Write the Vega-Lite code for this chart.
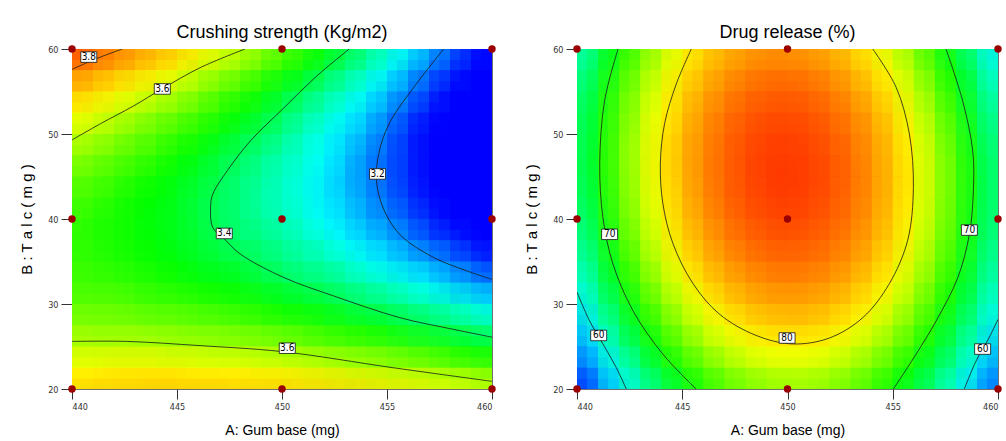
{
"$schema": "https://vega.github.io/schema/vega-lite/v6.json",
"background": "white",
"padding": {"left": 19, "top": 23, "right": 0, "bottom": 0},
"spacing": 27,
"resolve": {"scale": {"color": "independent", "x": "independent", "y": "independent"}},
"datasets": {
"pts": [{"a":440,"b":20},{"a":450,"b":20},{"a":460,"b":20},{"a":440,"b":40},{"a":450,"b":40},{"a":460,"b":40},{"a":440,"b":60},{"a":450,"b":60},{"a":460,"b":60}],
"csLab": [{"a":440.8,"b":59.05,"t":"3.8"},{"a":444.3,"b":55.3,"t":"3.6"},{"a":447.25,"b":38.3,"t":"3.4"},{"a":454.55,"b":45.3,"t":"3.2"},{"a":450.25,"b":24.8,"t":"3.6"}],
"drLab": [{"a":441.55,"b":38.2,"t":"70"},{"a":458.64,"b":38.7,"t":"70"},{"a":449.98,"b":26.0,"t":"80"},{"a":441.03,"b":26.3,"t":"60"},{"a":459.27,"b":24.7,"t":"60"}],
"csLines": [
{"k":"38","i":1,"a":440,"b":57.6},{"k":"38","i":2,"a":441.2,"b":58.9},{"k":"38","i":3,"a":442.4,"b":60},
{"k":"36u","i":1,"a":440,"b":49.3},{"k":"36u","i":2,"a":441.35,"b":51.2},{"k":"36u","i":3,"a":442.93,"b":53.3},{"k":"36u","i":4,"a":444.28,"b":55.3},{"k":"36u","i":5,"a":446.1,"b":57.8},{"k":"36u","i":6,"a":448.24,"b":60},
{"k":"34","i":1,"a":453.2,"b":60},{"k":"34","i":2,"a":451.6,"b":56.7},{"k":"34","i":3,"a":450.1,"b":53.1},{"k":"34","i":4,"a":448.5,"b":49.2},{"k":"34","i":5,"a":447.4,"b":45.7},{"k":"34","i":6,"a":446.7,"b":42.9},{"k":"34","i":7,"a":446.6,"b":41.4},{"k":"34","i":8,"a":446.7,"b":39.0},{"k":"34","i":9,"a":447.2,"b":37.8},{"k":"34","i":10,"a":448.0,"b":35.9},{"k":"34","i":11,"a":450.1,"b":33.1},{"k":"34","i":12,"a":452.4,"b":31.0},{"k":"34","i":13,"a":455.6,"b":28.4},{"k":"34","i":14,"a":458.0,"b":27.1},{"k":"34","i":15,"a":460,"b":26.1},
{"k":"32","i":1,"a":457.7,"b":60},{"k":"32","i":2,"a":456.4,"b":55.9},{"k":"32","i":3,"a":455.1,"b":51.2},{"k":"32","i":4,"a":454.6,"b":47.6},{"k":"32","i":5,"a":454.5,"b":44.5},{"k":"32","i":6,"a":454.8,"b":41.4},{"k":"32","i":7,"a":455.6,"b":38.2},{"k":"32","i":8,"a":457.2,"b":35.5},{"k":"32","i":9,"a":458.8,"b":33.9},{"k":"32","i":10,"a":460,"b":32.9},
{"k":"36l","i":1,"a":440,"b":25.6},{"k":"36l","i":2,"a":442.6,"b":25.6},{"k":"36l","i":3,"a":446.1,"b":25.1},{"k":"36l","i":4,"a":450,"b":24.4},{"k":"36l","i":5,"a":455.3,"b":22.5},{"k":"36l","i":6,"a":460,"b":20.9}
],
"drLines": [
{"k":"80","i":1,"a":445.43,"b":60},{"k":"80","i":2,"a":444.72,"b":55.9},{"k":"80","i":3,"a":444.16,"b":51.2},{"k":"80","i":4,"a":443.96,"b":46.5},{"k":"80","i":5,"a":444.08,"b":41.8},{"k":"80","i":6,"a":444.56,"b":37.1},{"k":"80","i":7,"a":445.51,"b":32.4},{"k":"80","i":8,"a":446.77,"b":28.8},{"k":"80","i":9,"a":448.51,"b":26.3},{"k":"80","i":10,"a":450.25,"b":25.3},{"k":"80","i":11,"a":451.99,"b":26.0},{"k":"80","i":12,"a":453.58,"b":28.4},{"k":"80","i":13,"a":454.84,"b":32.4},{"k":"80","i":14,"a":455.71,"b":37.5},{"k":"80","i":15,"a":455.98,"b":43.7},{"k":"80","i":16,"a":455.79,"b":50.0},{"k":"80","i":17,"a":455.16,"b":55.5},{"k":"80","i":18,"a":454.05,"b":60},
{"k":"70l","i":1,"a":441.95,"b":60},{"k":"70l","i":2,"a":441.31,"b":53.9},{"k":"70l","i":3,"a":441.08,"b":46.5},{"k":"70l","i":4,"a":441.23,"b":40.2},{"k":"70l","i":5,"a":441.71,"b":34.7},{"k":"70l","i":6,"a":442.66,"b":29.2},{"k":"70l","i":7,"a":444.08,"b":24.1},{"k":"70l","i":8,"a":445.66,"b":20},
{"k":"70r","i":1,"a":457.53,"b":60},{"k":"70r","i":2,"a":458.32,"b":53.9},{"k":"70r","i":3,"a":458.8,"b":48.0},{"k":"70r","i":4,"a":458.83,"b":43.3},{"k":"70r","i":5,"a":458.64,"b":38.2},{"k":"70r","i":6,"a":458.09,"b":33.1},{"k":"70r","i":7,"a":457.06,"b":28.0},{"k":"70r","i":8,"a":456.11,"b":24.1},{"k":"70r","i":9,"a":455.03,"b":20},
{"k":"60l","i":1,"a":440,"b":31.4},{"k":"60l","i":2,"a":440.6,"b":28.0},{"k":"60l","i":3,"a":441.23,"b":25.3},{"k":"60l","i":4,"a":441.87,"b":22.5},{"k":"60l","i":5,"a":442.34,"b":20},
{"k":"60r","i":1,"a":460,"b":28.2},{"k":"60r","i":2,"a":459.59,"b":26.1},{"k":"60r","i":3,"a":458.96,"b":23.3},{"k":"60r","i":4,"a":458.4,"b":20}
],
"cs": [
{"a":440,"b":20,"v":3.72},{"a":441,"b":20,"v":3.73},{"a":442,"b":20,"v":3.73},{"a":443,"b":20,"v":3.73},{"a":444,"b":20,"v":3.74},{"a":445,"b":20,"v":3.74},{"a":446,"b":20,"v":3.74},{"a":447,"b":20,"v":3.74},{"a":448,"b":20,"v":3.73},{"a":449,"b":20,"v":3.73},{"a":450,"b":20,"v":3.73},{"a":451,"b":20,"v":3.72},{"a":452,"b":20,"v":3.72},{"a":453,"b":20,"v":3.71},{"a":454,"b":20,"v":3.70},{"a":455,"b":20,"v":3.69},{"a":456,"b":20,"v":3.68},{"a":457,"b":20,"v":3.67},{"a":458,"b":20,"v":3.66},{"a":459,"b":20,"v":3.65},{"a":460,"b":20,"v":3.64},
{"a":440,"b":22.5,"v":3.66},{"a":441,"b":22.5,"v":3.66},{"a":442,"b":22.5,"v":3.67},{"a":443,"b":22.5,"v":3.67},{"a":444,"b":22.5,"v":3.67},{"a":445,"b":22.5,"v":3.67},{"a":446,"b":22.5,"v":3.66},{"a":447,"b":22.5,"v":3.66},{"a":448,"b":22.5,"v":3.66},{"a":449,"b":22.5,"v":3.65},{"a":450,"b":22.5,"v":3.65},{"a":451,"b":22.5,"v":3.64},{"a":452,"b":22.5,"v":3.63},{"a":453,"b":22.5,"v":3.62},{"a":454,"b":22.5,"v":3.61},{"a":455,"b":22.5,"v":3.60},{"a":456,"b":22.5,"v":3.59},{"a":457,"b":22.5,"v":3.58},{"a":458,"b":22.5,"v":3.56},{"a":459,"b":22.5,"v":3.55},{"a":460,"b":22.5,"v":3.53},
{"a":440,"b":25,"v":3.61},{"a":441,"b":25,"v":3.61},{"a":442,"b":25,"v":3.61},{"a":443,"b":25,"v":3.61},{"a":444,"b":25,"v":3.61},{"a":445,"b":25,"v":3.60},{"a":446,"b":25,"v":3.60},{"a":447,"b":25,"v":3.59},{"a":448,"b":25,"v":3.59},{"a":449,"b":25,"v":3.58},{"a":450,"b":25,"v":3.57},{"a":451,"b":25,"v":3.56},{"a":452,"b":25,"v":3.55},{"a":453,"b":25,"v":3.54},{"a":454,"b":25,"v":3.53},{"a":455,"b":25,"v":3.52},{"a":456,"b":25,"v":3.50},{"a":457,"b":25,"v":3.49},{"a":458,"b":25,"v":3.47},{"a":459,"b":25,"v":3.45},{"a":460,"b":25,"v":3.44},
{"a":440,"b":27.5,"v":3.57},{"a":441,"b":27.5,"v":3.56},{"a":442,"b":27.5,"v":3.56},{"a":443,"b":27.5,"v":3.56},{"a":444,"b":27.5,"v":3.55},{"a":445,"b":27.5,"v":3.55},{"a":446,"b":27.5,"v":3.54},{"a":447,"b":27.5,"v":3.54},{"a":448,"b":27.5,"v":3.53},{"a":449,"b":27.5,"v":3.52},{"a":450,"b":27.5,"v":3.51},{"a":451,"b":27.5,"v":3.50},{"a":452,"b":27.5,"v":3.48},{"a":453,"b":27.5,"v":3.47},{"a":454,"b":27.5,"v":3.46},{"a":455,"b":27.5,"v":3.44},{"a":456,"b":27.5,"v":3.42},{"a":457,"b":27.5,"v":3.41},{"a":458,"b":27.5,"v":3.39},{"a":459,"b":27.5,"v":3.37},{"a":460,"b":27.5,"v":3.35},
{"a":440,"b":30,"v":3.53},{"a":441,"b":30,"v":3.53},{"a":442,"b":30,"v":3.53},{"a":443,"b":30,"v":3.52},{"a":444,"b":30,"v":3.51},{"a":445,"b":30,"v":3.51},{"a":446,"b":30,"v":3.50},{"a":447,"b":30,"v":3.49},{"a":448,"b":30,"v":3.48},{"a":449,"b":30,"v":3.47},{"a":450,"b":30,"v":3.45},{"a":451,"b":30,"v":3.44},{"a":452,"b":30,"v":3.43},{"a":453,"b":30,"v":3.41},{"a":454,"b":30,"v":3.39},{"a":455,"b":30,"v":3.38},{"a":456,"b":30,"v":3.36},{"a":457,"b":30,"v":3.34},{"a":458,"b":30,"v":3.32},{"a":459,"b":30,"v":3.30},{"a":460,"b":30,"v":3.27},
{"a":440,"b":32.5,"v":3.51},{"a":441,"b":32.5,"v":3.50},{"a":442,"b":32.5,"v":3.50},{"a":443,"b":32.5,"v":3.49},{"a":444,"b":32.5,"v":3.48},{"a":445,"b":32.5,"v":3.47},{"a":446,"b":32.5,"v":3.46},{"a":447,"b":32.5,"v":3.45},{"a":448,"b":32.5,"v":3.44},{"a":449,"b":32.5,"v":3.42},{"a":450,"b":32.5,"v":3.41},{"a":451,"b":32.5,"v":3.39},{"a":452,"b":32.5,"v":3.38},{"a":453,"b":32.5,"v":3.36},{"a":454,"b":32.5,"v":3.34},{"a":455,"b":32.5,"v":3.32},{"a":456,"b":32.5,"v":3.30},{"a":457,"b":32.5,"v":3.28},{"a":458,"b":32.5,"v":3.25},{"a":459,"b":32.5,"v":3.23},{"a":460,"b":32.5,"v":3.21},
{"a":440,"b":35,"v":3.50},{"a":441,"b":35,"v":3.49},{"a":442,"b":35,"v":3.48},{"a":443,"b":35,"v":3.47},{"a":444,"b":35,"v":3.46},{"a":445,"b":35,"v":3.45},{"a":446,"b":35,"v":3.43},{"a":447,"b":35,"v":3.42},{"a":448,"b":35,"v":3.41},{"a":449,"b":35,"v":3.39},{"a":450,"b":35,"v":3.37},{"a":451,"b":35,"v":3.35},{"a":452,"b":35,"v":3.34},{"a":453,"b":35,"v":3.32},{"a":454,"b":35,"v":3.29},{"a":455,"b":35,"v":3.27},{"a":456,"b":35,"v":3.25},{"a":457,"b":35,"v":3.23},{"a":458,"b":35,"v":3.20},{"a":459,"b":35,"v":3.18},{"a":460,"b":35,"v":3.15},
{"a":440,"b":37.5,"v":3.49},{"a":441,"b":37.5,"v":3.48},{"a":442,"b":37.5,"v":3.47},{"a":443,"b":37.5,"v":3.46},{"a":444,"b":37.5,"v":3.45},{"a":445,"b":37.5,"v":3.43},{"a":446,"b":37.5,"v":3.42},{"a":447,"b":37.5,"v":3.40},{"a":448,"b":37.5,"v":3.38},{"a":449,"b":37.5,"v":3.37},{"a":450,"b":37.5,"v":3.35},{"a":451,"b":37.5,"v":3.33},{"a":452,"b":37.5,"v":3.31},{"a":453,"b":37.5,"v":3.28},{"a":454,"b":37.5,"v":3.26},{"a":455,"b":37.5,"v":3.24},{"a":456,"b":37.5,"v":3.21},{"a":457,"b":37.5,"v":3.18},{"a":458,"b":37.5,"v":3.16},{"a":459,"b":37.5,"v":3.13},{"a":460,"b":37.5,"v":3.10},
{"a":440,"b":40,"v":3.50},{"a":441,"b":40,"v":3.48},{"a":442,"b":40,"v":3.47},{"a":443,"b":40,"v":3.46},{"a":444,"b":40,"v":3.44},{"a":445,"b":40,"v":3.43},{"a":446,"b":40,"v":3.41},{"a":447,"b":40,"v":3.39},{"a":448,"b":40,"v":3.37},{"a":449,"b":40,"v":3.35},{"a":450,"b":40,"v":3.33},{"a":451,"b":40,"v":3.31},{"a":452,"b":40,"v":3.28},{"a":453,"b":40,"v":3.26},{"a":454,"b":40,"v":3.23},{"a":455,"b":40,"v":3.21},{"a":456,"b":40,"v":3.18},{"a":457,"b":40,"v":3.15},{"a":458,"b":40,"v":3.12},{"a":459,"b":40,"v":3.09},{"a":460,"b":40,"v":3.06},
{"a":440,"b":42.5,"v":3.51},{"a":441,"b":42.5,"v":3.50},{"a":442,"b":42.5,"v":3.48},{"a":443,"b":42.5,"v":3.46},{"a":444,"b":42.5,"v":3.45},{"a":445,"b":42.5,"v":3.43},{"a":446,"b":42.5,"v":3.41},{"a":447,"b":42.5,"v":3.39},{"a":448,"b":42.5,"v":3.37},{"a":449,"b":42.5,"v":3.34},{"a":450,"b":42.5,"v":3.32},{"a":451,"b":42.5,"v":3.30},{"a":452,"b":42.5,"v":3.27},{"a":453,"b":42.5,"v":3.25},{"a":454,"b":42.5,"v":3.22},{"a":455,"b":42.5,"v":3.19},{"a":456,"b":42.5,"v":3.16},{"a":457,"b":42.5,"v":3.13},{"a":458,"b":42.5,"v":3.10},{"a":459,"b":42.5,"v":3.07},{"a":460,"b":42.5,"v":3.03},
{"a":440,"b":45,"v":3.53},{"a":441,"b":45,"v":3.52},{"a":442,"b":45,"v":3.50},{"a":443,"b":45,"v":3.48},{"a":444,"b":45,"v":3.46},{"a":445,"b":45,"v":3.44},{"a":446,"b":45,"v":3.42},{"a":447,"b":45,"v":3.40},{"a":448,"b":45,"v":3.37},{"a":449,"b":45,"v":3.35},{"a":450,"b":45,"v":3.32},{"a":451,"b":45,"v":3.30},{"a":452,"b":45,"v":3.27},{"a":453,"b":45,"v":3.24},{"a":454,"b":45,"v":3.21},{"a":455,"b":45,"v":3.18},{"a":456,"b":45,"v":3.15},{"a":457,"b":45,"v":3.12},{"a":458,"b":45,"v":3.08},{"a":459,"b":45,"v":3.05},{"a":460,"b":45,"v":3.01},
{"a":440,"b":47.5,"v":3.57},{"a":441,"b":47.5,"v":3.55},{"a":442,"b":47.5,"v":3.53},{"a":443,"b":47.5,"v":3.51},{"a":444,"b":47.5,"v":3.49},{"a":445,"b":47.5,"v":3.46},{"a":446,"b":47.5,"v":3.44},{"a":447,"b":47.5,"v":3.41},{"a":448,"b":47.5,"v":3.39},{"a":449,"b":47.5,"v":3.36},{"a":450,"b":47.5,"v":3.33},{"a":451,"b":47.5,"v":3.31},{"a":452,"b":47.5,"v":3.28},{"a":453,"b":47.5,"v":3.25},{"a":454,"b":47.5,"v":3.21},{"a":455,"b":47.5,"v":3.18},{"a":456,"b":47.5,"v":3.15},{"a":457,"b":47.5,"v":3.11},{"a":458,"b":47.5,"v":3.08},{"a":459,"b":47.5,"v":3.04},{"a":460,"b":47.5,"v":3.00},
{"a":440,"b":50,"v":3.61},{"a":441,"b":50,"v":3.59},{"a":442,"b":50,"v":3.57},{"a":443,"b":50,"v":3.54},{"a":444,"b":50,"v":3.52},{"a":445,"b":50,"v":3.49},{"a":446,"b":50,"v":3.47},{"a":447,"b":50,"v":3.44},{"a":448,"b":50,"v":3.41},{"a":449,"b":50,"v":3.39},{"a":450,"b":50,"v":3.36},{"a":451,"b":50,"v":3.32},{"a":452,"b":50,"v":3.29},{"a":453,"b":50,"v":3.26},{"a":454,"b":50,"v":3.23},{"a":455,"b":50,"v":3.19},{"a":456,"b":50,"v":3.15},{"a":457,"b":50,"v":3.12},{"a":458,"b":50,"v":3.08},{"a":459,"b":50,"v":3.04},{"a":460,"b":50,"v":3.00},
{"a":440,"b":52.5,"v":3.66},{"a":441,"b":52.5,"v":3.64},{"a":442,"b":52.5,"v":3.61},{"a":443,"b":52.5,"v":3.59},{"a":444,"b":52.5,"v":3.56},{"a":445,"b":52.5,"v":3.54},{"a":446,"b":52.5,"v":3.51},{"a":447,"b":52.5,"v":3.48},{"a":448,"b":52.5,"v":3.45},{"a":449,"b":52.5,"v":3.42},{"a":450,"b":52.5,"v":3.39},{"a":451,"b":52.5,"v":3.35},{"a":452,"b":52.5,"v":3.32},{"a":453,"b":52.5,"v":3.28},{"a":454,"b":52.5,"v":3.25},{"a":455,"b":52.5,"v":3.21},{"a":456,"b":52.5,"v":3.17},{"a":457,"b":52.5,"v":3.13},{"a":458,"b":52.5,"v":3.09},{"a":459,"b":52.5,"v":3.05},{"a":460,"b":52.5,"v":3.01},
{"a":440,"b":55,"v":3.72},{"a":441,"b":55,"v":3.70},{"a":442,"b":55,"v":3.67},{"a":443,"b":55,"v":3.64},{"a":444,"b":55,"v":3.62},{"a":445,"b":55,"v":3.59},{"a":446,"b":55,"v":3.56},{"a":447,"b":55,"v":3.52},{"a":448,"b":55,"v":3.49},{"a":449,"b":55,"v":3.46},{"a":450,"b":55,"v":3.42},{"a":451,"b":55,"v":3.39},{"a":452,"b":55,"v":3.35},{"a":453,"b":55,"v":3.32},{"a":454,"b":55,"v":3.28},{"a":455,"b":55,"v":3.24},{"a":456,"b":55,"v":3.20},{"a":457,"b":55,"v":3.16},{"a":458,"b":55,"v":3.11},{"a":459,"b":55,"v":3.07},{"a":460,"b":55,"v":3.03},
{"a":440,"b":57.5,"v":3.79},{"a":441,"b":57.5,"v":3.77},{"a":442,"b":57.5,"v":3.74},{"a":443,"b":57.5,"v":3.71},{"a":444,"b":57.5,"v":3.68},{"a":445,"b":57.5,"v":3.65},{"a":446,"b":57.5,"v":3.61},{"a":447,"b":57.5,"v":3.58},{"a":448,"b":57.5,"v":3.55},{"a":449,"b":57.5,"v":3.51},{"a":450,"b":57.5,"v":3.47},{"a":451,"b":57.5,"v":3.44},{"a":452,"b":57.5,"v":3.40},{"a":453,"b":57.5,"v":3.36},{"a":454,"b":57.5,"v":3.32},{"a":455,"b":57.5,"v":3.28},{"a":456,"b":57.5,"v":3.23},{"a":457,"b":57.5,"v":3.19},{"a":458,"b":57.5,"v":3.15},{"a":459,"b":57.5,"v":3.10},{"a":460,"b":57.5,"v":3.05},
{"a":440,"b":60,"v":3.87},{"a":441,"b":60,"v":3.84},{"a":442,"b":60,"v":3.81},{"a":443,"b":60,"v":3.78},{"a":444,"b":60,"v":3.75},{"a":445,"b":60,"v":3.72},{"a":446,"b":60,"v":3.68},{"a":447,"b":60,"v":3.64},{"a":448,"b":60,"v":3.61},{"a":449,"b":60,"v":3.57},{"a":450,"b":60,"v":3.53},{"a":451,"b":60,"v":3.49},{"a":452,"b":60,"v":3.45},{"a":453,"b":60,"v":3.41},{"a":454,"b":60,"v":3.37},{"a":455,"b":60,"v":3.32},{"a":456,"b":60,"v":3.28},{"a":457,"b":60,"v":3.23},{"a":458,"b":60,"v":3.19},{"a":459,"b":60,"v":3.14},{"a":460,"b":60,"v":3.09}
],
"dr": [
{"a":440,"b":20,"v":49.9},{"a":441,"b":20,"v":54.5},{"a":442,"b":20,"v":58.7},{"a":443,"b":20,"v":62.3},{"a":444,"b":20,"v":65.6},{"a":445,"b":20,"v":68.3},{"a":446,"b":20,"v":70.6},{"a":447,"b":20,"v":72.4},{"a":448,"b":20,"v":73.7},{"a":449,"b":20,"v":74.6},{"a":450,"b":20,"v":75.0},{"a":451,"b":20,"v":74.9},{"a":452,"b":20,"v":74.4},{"a":453,"b":20,"v":73.4},{"a":454,"b":20,"v":71.9},{"a":455,"b":20,"v":69.9},{"a":456,"b":20,"v":67.5},{"a":457,"b":20,"v":64.6},{"a":458,"b":20,"v":61.2},{"a":459,"b":20,"v":57.4},{"a":460,"b":20,"v":53.1},
{"a":440,"b":22.5,"v":52.5},{"a":441,"b":22.5,"v":57.1},{"a":442,"b":22.5,"v":61.3},{"a":443,"b":22.5,"v":64.9},{"a":444,"b":22.5,"v":68.1},{"a":445,"b":22.5,"v":70.9},{"a":446,"b":22.5,"v":73.1},{"a":447,"b":22.5,"v":74.9},{"a":448,"b":22.5,"v":76.2},{"a":449,"b":22.5,"v":77.1},{"a":450,"b":22.5,"v":77.5},{"a":451,"b":22.5,"v":77.4},{"a":452,"b":22.5,"v":76.8},{"a":453,"b":22.5,"v":75.8},{"a":454,"b":22.5,"v":74.3},{"a":455,"b":22.5,"v":72.3},{"a":456,"b":22.5,"v":69.9},{"a":457,"b":22.5,"v":66.9},{"a":458,"b":22.5,"v":63.6},{"a":459,"b":22.5,"v":59.7},{"a":460,"b":22.5,"v":55.4},
{"a":440,"b":25,"v":54.9},{"a":441,"b":25,"v":59.5},{"a":442,"b":25,"v":63.6},{"a":443,"b":25,"v":67.3},{"a":444,"b":25,"v":70.5},{"a":445,"b":25,"v":73.2},{"a":446,"b":25,"v":75.4},{"a":447,"b":25,"v":77.2},{"a":448,"b":25,"v":78.5},{"a":449,"b":25,"v":79.3},{"a":450,"b":25,"v":79.7},{"a":451,"b":25,"v":79.6},{"a":452,"b":25,"v":79.0},{"a":453,"b":25,"v":77.9},{"a":454,"b":25,"v":76.4},{"a":455,"b":25,"v":74.4},{"a":456,"b":25,"v":72.0},{"a":457,"b":25,"v":69.0},{"a":458,"b":25,"v":65.6},{"a":459,"b":25,"v":61.8},{"a":460,"b":25,"v":57.4},
{"a":440,"b":27.5,"v":57.1},{"a":441,"b":27.5,"v":61.6},{"a":442,"b":27.5,"v":65.7},{"a":443,"b":27.5,"v":69.4},{"a":444,"b":27.5,"v":72.5},{"a":445,"b":27.5,"v":75.2},{"a":446,"b":27.5,"v":77.4},{"a":447,"b":27.5,"v":79.2},{"a":448,"b":27.5,"v":80.5},{"a":449,"b":27.5,"v":81.3},{"a":450,"b":27.5,"v":81.6},{"a":451,"b":27.5,"v":81.5},{"a":452,"b":27.5,"v":80.9},{"a":453,"b":27.5,"v":79.8},{"a":454,"b":27.5,"v":78.3},{"a":455,"b":27.5,"v":76.3},{"a":456,"b":27.5,"v":73.8},{"a":457,"b":27.5,"v":70.9},{"a":458,"b":27.5,"v":67.4},{"a":459,"b":27.5,"v":63.6},{"a":460,"b":27.5,"v":59.2},
{"a":440,"b":30,"v":59.0},{"a":441,"b":30,"v":63.5},{"a":442,"b":30,"v":67.6},{"a":443,"b":30,"v":71.2},{"a":444,"b":30,"v":74.3},{"a":445,"b":30,"v":77.0},{"a":446,"b":30,"v":79.2},{"a":447,"b":30,"v":81.0},{"a":448,"b":30,"v":82.2},{"a":449,"b":30,"v":83.0},{"a":450,"b":30,"v":83.3},{"a":451,"b":30,"v":83.2},{"a":452,"b":30,"v":82.6},{"a":453,"b":30,"v":81.5},{"a":454,"b":30,"v":79.9},{"a":455,"b":30,"v":77.9},{"a":456,"b":30,"v":75.4},{"a":457,"b":30,"v":72.5},{"a":458,"b":30,"v":69.0},{"a":459,"b":30,"v":65.1},{"a":460,"b":30,"v":60.7},
{"a":440,"b":32.5,"v":60.6},{"a":441,"b":32.5,"v":65.1},{"a":442,"b":32.5,"v":69.2},{"a":443,"b":32.5,"v":72.8},{"a":444,"b":32.5,"v":75.9},{"a":445,"b":32.5,"v":78.6},{"a":446,"b":32.5,"v":80.8},{"a":447,"b":32.5,"v":82.5},{"a":448,"b":32.5,"v":83.7},{"a":449,"b":32.5,"v":84.5},{"a":450,"b":32.5,"v":84.8},{"a":451,"b":32.5,"v":84.6},{"a":452,"b":32.5,"v":84.0},{"a":453,"b":32.5,"v":82.9},{"a":454,"b":32.5,"v":81.3},{"a":455,"b":32.5,"v":79.3},{"a":456,"b":32.5,"v":76.8},{"a":457,"b":32.5,"v":73.8},{"a":458,"b":32.5,"v":70.3},{"a":459,"b":32.5,"v":66.4},{"a":460,"b":32.5,"v":62.0},
{"a":440,"b":35,"v":62.0},{"a":441,"b":35,"v":66.5},{"a":442,"b":35,"v":70.6},{"a":443,"b":35,"v":74.1},{"a":444,"b":35,"v":77.2},{"a":445,"b":35,"v":79.9},{"a":446,"b":35,"v":82.1},{"a":447,"b":35,"v":83.7},{"a":448,"b":35,"v":85.0},{"a":449,"b":35,"v":85.7},{"a":450,"b":35,"v":86.0},{"a":451,"b":35,"v":85.8},{"a":452,"b":35,"v":85.2},{"a":453,"b":35,"v":84.1},{"a":454,"b":35,"v":82.5},{"a":455,"b":35,"v":80.4},{"a":456,"b":35,"v":77.9},{"a":457,"b":35,"v":74.9},{"a":458,"b":35,"v":71.4},{"a":459,"b":35,"v":67.5},{"a":460,"b":35,"v":63.0},
{"a":440,"b":37.5,"v":63.1},{"a":441,"b":37.5,"v":67.6},{"a":442,"b":37.5,"v":71.7},{"a":443,"b":37.5,"v":75.2},{"a":444,"b":37.5,"v":78.3},{"a":445,"b":37.5,"v":80.9},{"a":446,"b":37.5,"v":83.1},{"a":447,"b":37.5,"v":84.8},{"a":448,"b":37.5,"v":86.0},{"a":449,"b":37.5,"v":86.7},{"a":450,"b":37.5,"v":87.0},{"a":451,"b":37.5,"v":86.8},{"a":452,"b":37.5,"v":86.1},{"a":453,"b":37.5,"v":85.0},{"a":454,"b":37.5,"v":83.4},{"a":455,"b":37.5,"v":81.3},{"a":456,"b":37.5,"v":78.7},{"a":457,"b":37.5,"v":75.7},{"a":458,"b":37.5,"v":72.2},{"a":459,"b":37.5,"v":68.3},{"a":460,"b":37.5,"v":63.8},
{"a":440,"b":40,"v":64.0},{"a":441,"b":40,"v":68.5},{"a":442,"b":40,"v":72.5},{"a":443,"b":40,"v":76.1},{"a":444,"b":40,"v":79.1},{"a":445,"b":40,"v":81.7},{"a":446,"b":40,"v":83.9},{"a":447,"b":40,"v":85.5},{"a":448,"b":40,"v":86.7},{"a":449,"b":40,"v":87.4},{"a":450,"b":40,"v":87.7},{"a":451,"b":40,"v":87.5},{"a":452,"b":40,"v":86.8},{"a":453,"b":40,"v":85.6},{"a":454,"b":40,"v":84.0},{"a":455,"b":40,"v":81.9},{"a":456,"b":40,"v":79.3},{"a":457,"b":40,"v":76.3},{"a":458,"b":40,"v":72.8},{"a":459,"b":40,"v":68.8},{"a":460,"b":40,"v":64.4},
{"a":440,"b":42.5,"v":64.7},{"a":441,"b":42.5,"v":69.2},{"a":442,"b":42.5,"v":73.1},{"a":443,"b":42.5,"v":76.7},{"a":444,"b":42.5,"v":79.7},{"a":445,"b":42.5,"v":82.3},{"a":446,"b":42.5,"v":84.4},{"a":447,"b":42.5,"v":86.1},{"a":448,"b":42.5,"v":87.2},{"a":449,"b":42.5,"v":87.9},{"a":450,"b":42.5,"v":88.2},{"a":451,"b":42.5,"v":87.9},{"a":452,"b":42.5,"v":87.2},{"a":453,"b":42.5,"v":86.0},{"a":454,"b":42.5,"v":84.4},{"a":455,"b":42.5,"v":82.3},{"a":456,"b":42.5,"v":79.7},{"a":457,"b":42.5,"v":76.6},{"a":458,"b":42.5,"v":73.1},{"a":459,"b":42.5,"v":69.1},{"a":460,"b":42.5,"v":64.6},
{"a":440,"b":45,"v":65.1},{"a":441,"b":45,"v":69.5},{"a":442,"b":45,"v":73.5},{"a":443,"b":45,"v":77.0},{"a":444,"b":45,"v":80.0},{"a":445,"b":45,"v":82.6},{"a":446,"b":45,"v":84.7},{"a":447,"b":45,"v":86.3},{"a":448,"b":45,"v":87.5},{"a":449,"b":45,"v":88.2},{"a":450,"b":45,"v":88.4},{"a":451,"b":45,"v":88.1},{"a":452,"b":45,"v":87.4},{"a":453,"b":45,"v":86.2},{"a":454,"b":45,"v":84.5},{"a":455,"b":45,"v":82.4},{"a":456,"b":45,"v":79.8},{"a":457,"b":45,"v":76.7},{"a":458,"b":45,"v":73.2},{"a":459,"b":45,"v":69.2},{"a":460,"b":45,"v":64.7},
{"a":440,"b":47.5,"v":65.2},{"a":441,"b":47.5,"v":69.7},{"a":442,"b":47.5,"v":73.6},{"a":443,"b":47.5,"v":77.1},{"a":444,"b":47.5,"v":80.1},{"a":445,"b":47.5,"v":82.7},{"a":446,"b":47.5,"v":84.7},{"a":447,"b":47.5,"v":86.3},{"a":448,"b":47.5,"v":87.5},{"a":449,"b":47.5,"v":88.2},{"a":450,"b":47.5,"v":88.3},{"a":451,"b":47.5,"v":88.1},{"a":452,"b":47.5,"v":87.3},{"a":453,"b":47.5,"v":86.1},{"a":454,"b":47.5,"v":84.4},{"a":455,"b":47.5,"v":82.3},{"a":456,"b":47.5,"v":79.6},{"a":457,"b":47.5,"v":76.6},{"a":458,"b":47.5,"v":73.0},{"a":459,"b":47.5,"v":69.0},{"a":460,"b":47.5,"v":64.5},
{"a":440,"b":50,"v":65.1},{"a":441,"b":50,"v":69.5},{"a":442,"b":50,"v":73.5},{"a":443,"b":50,"v":77.0},{"a":444,"b":50,"v":79.9},{"a":445,"b":50,"v":82.5},{"a":446,"b":50,"v":84.5},{"a":447,"b":50,"v":86.1},{"a":448,"b":50,"v":87.2},{"a":449,"b":50,"v":87.9},{"a":450,"b":50,"v":88.1},{"a":451,"b":50,"v":87.8},{"a":452,"b":50,"v":87.0},{"a":453,"b":50,"v":85.8},{"a":454,"b":50,"v":84.1},{"a":455,"b":50,"v":81.9},{"a":456,"b":50,"v":79.3},{"a":457,"b":50,"v":76.1},{"a":458,"b":50,"v":72.6},{"a":459,"b":50,"v":68.5},{"a":460,"b":50,"v":64.0},
{"a":440,"b":52.5,"v":64.8},{"a":441,"b":52.5,"v":69.2},{"a":442,"b":52.5,"v":73.1},{"a":443,"b":52.5,"v":76.5},{"a":444,"b":52.5,"v":79.5},{"a":445,"b":52.5,"v":82.0},{"a":446,"b":52.5,"v":84.1},{"a":447,"b":52.5,"v":85.6},{"a":448,"b":52.5,"v":86.7},{"a":449,"b":52.5,"v":87.4},{"a":450,"b":52.5,"v":87.5},{"a":451,"b":52.5,"v":87.2},{"a":452,"b":52.5,"v":86.4},{"a":453,"b":52.5,"v":85.2},{"a":454,"b":52.5,"v":83.5},{"a":455,"b":52.5,"v":81.3},{"a":456,"b":52.5,"v":78.6},{"a":457,"b":52.5,"v":75.5},{"a":458,"b":52.5,"v":71.9},{"a":459,"b":52.5,"v":67.8},{"a":460,"b":52.5,"v":63.3},
{"a":440,"b":55,"v":64.2},{"a":441,"b":55,"v":68.6},{"a":442,"b":55,"v":72.5},{"a":443,"b":55,"v":75.9},{"a":444,"b":55,"v":78.9},{"a":445,"b":55,"v":81.3},{"a":446,"b":55,"v":83.4},{"a":447,"b":55,"v":84.9},{"a":448,"b":55,"v":86.0},{"a":449,"b":55,"v":86.6},{"a":450,"b":55,"v":86.7},{"a":451,"b":55,"v":86.4},{"a":452,"b":55,"v":85.6},{"a":453,"b":55,"v":84.3},{"a":454,"b":55,"v":82.6},{"a":455,"b":55,"v":80.4},{"a":456,"b":55,"v":77.7},{"a":457,"b":55,"v":74.6},{"a":458,"b":55,"v":70.9},{"a":459,"b":55,"v":66.9},{"a":460,"b":55,"v":62.3},
{"a":440,"b":57.5,"v":63.3},{"a":441,"b":57.5,"v":67.7},{"a":442,"b":57.5,"v":71.6},{"a":443,"b":57.5,"v":75.0},{"a":444,"b":57.5,"v":77.9},{"a":445,"b":57.5,"v":80.4},{"a":446,"b":57.5,"v":82.4},{"a":447,"b":57.5,"v":83.9},{"a":448,"b":57.5,"v":85.0},{"a":449,"b":57.5,"v":85.6},{"a":450,"b":57.5,"v":85.7},{"a":451,"b":57.5,"v":85.4},{"a":452,"b":57.5,"v":84.5},{"a":453,"b":57.5,"v":83.3},{"a":454,"b":57.5,"v":81.5},{"a":455,"b":57.5,"v":79.3},{"a":456,"b":57.5,"v":76.6},{"a":457,"b":57.5,"v":73.4},{"a":458,"b":57.5,"v":69.8},{"a":459,"b":57.5,"v":65.7},{"a":460,"b":57.5,"v":61.1},
{"a":440,"b":60,"v":62.2},{"a":441,"b":60,"v":66.6},{"a":442,"b":60,"v":70.4},{"a":443,"b":60,"v":73.8},{"a":444,"b":60,"v":76.8},{"a":445,"b":60,"v":79.2},{"a":446,"b":60,"v":81.2},{"a":447,"b":60,"v":82.7},{"a":448,"b":60,"v":83.8},{"a":449,"b":60,"v":84.3},{"a":450,"b":60,"v":84.4},{"a":451,"b":60,"v":84.1},{"a":452,"b":60,"v":83.2},{"a":453,"b":60,"v":81.9},{"a":454,"b":60,"v":80.1},{"a":455,"b":60,"v":77.9},{"a":456,"b":60,"v":75.2},{"a":457,"b":60,"v":72.0},{"a":458,"b":60,"v":68.3},{"a":459,"b":60,"v":64.2},{"a":460,"b":60,"v":59.6}
]
},
"hconcat": [
{
"width": 420, "height": 340,
"title": {"text": "Crushing strength (Kg/m2)"},
"layer": [
{"data": {"name": "cs"},
 "mark": {"type": "point", "shape": "square", "filled": true, "opacity": 1, "size": 480, "strokeWidth": 0, "clip": true},
 "encoding": {
  "x": {"field": "a", "type": "quantitative", "scale": {"domain": [440, 460], "nice": false, "zero": false}, "axis": {"values": [440, 445, 450, 455, 460], "title": "A: Gum base (mg)"}},
  "y": {"field": "b", "type": "quantitative", "scale": {"domain": [20, 60], "nice": false, "zero": false}, "axis": {"values": [20, 30, 40, 50, 60], "title": "B : T a l c ( m g )"}},
  "color": {"field": "v", "type": "quantitative", "legend": null, "scale": {"domain": [3.12, 3.28, 3.45, 3.66, 3.95], "clamp": true, "interpolate": "rgb", "range": ["#0000ff", "#00ffff", "#00ff00", "#ffff00", "#ff0000"]}}
 }},
{"data": {"name": "cs"},
 "mark": {"type": "point", "shape": "square", "filled": true, "opacity": 0.28, "size": 1764, "strokeWidth": 0, "clip": true},
 "encoding": {
  "x": {"field": "a", "type": "quantitative"},
  "y": {"field": "b", "type": "quantitative"},
  "color": {"field": "v", "type": "quantitative", "legend": null}
 }},
{"data": {"name": "csLines"},
 "mark": {"type": "line", "color": "#1a1a1a", "strokeWidth": 0.8, "interpolate": "catmull-rom", "clip": true},
 "encoding": {"x": {"field": "a", "type": "quantitative"}, "y": {"field": "b", "type": "quantitative"}, "detail": {"field": "k"}, "order": {"field": "i", "type": "quantitative"}}},
{"data": {"name": "csLab"},
 "mark": {"type": "point", "shape": "M-1,-0.66H1V0.66H-1Z", "filled": true, "fill": "white", "stroke": "#111", "strokeWidth": 0.8, "size": 256, "opacity": 1},
 "encoding": {"x": {"field": "a", "type": "quantitative"}, "y": {"field": "b", "type": "quantitative"}}},
{"data": {"name": "csLab"},
 "mark": {"type": "text", "fontSize": 10, "font": "Liberation Sans Narrow, DejaVu Sans Condensed, sans-serif", "color": "#000", "baseline": "middle", "align": "center"},
 "encoding": {"x": {"field": "a", "type": "quantitative"}, "y": {"field": "b", "type": "quantitative"}, "text": {"field": "t"}}},
{"data": {"name": "pts"},
 "mark": {"type": "circle", "size": 55, "color": "#9a0000", "opacity": 1},
 "encoding": {"x": {"field": "a", "type": "quantitative"}, "y": {"field": "b", "type": "quantitative"}}}
]
},
{
"width": 421, "height": 340,
"title": {"text": "Drug release (%)"},
"layer": [
{"data": {"name": "dr"},
 "mark": {"type": "point", "shape": "square", "filled": true, "opacity": 1, "size": 480, "strokeWidth": 0, "clip": true},
 "encoding": {
  "x": {"field": "a", "type": "quantitative", "scale": {"domain": [440, 460], "nice": false, "zero": false}, "axis": {"values": [440, 445, 450, 455, 460], "title": "A: Gum base (mg)"}},
  "y": {"field": "b", "type": "quantitative", "scale": {"domain": [20, 60], "nice": false, "zero": false}, "axis": {"values": [20, 30, 40, 50, 60], "title": "B : T a l c ( m g )"}},
  "color": {"field": "v", "type": "quantitative", "legend": null, "scale": {"domain": [50, 60.3, 70, 79.5, 91], "clamp": true, "interpolate": "rgb", "range": ["#0000ff", "#00ffff", "#00ff00", "#ffff00", "#ff0000"]}}
 }},
{"data": {"name": "dr"},
 "mark": {"type": "point", "shape": "square", "filled": true, "opacity": 0.28, "size": 1764, "strokeWidth": 0, "clip": true},
 "encoding": {
  "x": {"field": "a", "type": "quantitative"},
  "y": {"field": "b", "type": "quantitative"},
  "color": {"field": "v", "type": "quantitative", "legend": null}
 }},
{"data": {"name": "drLines"},
 "mark": {"type": "line", "color": "#1a1a1a", "strokeWidth": 0.8, "interpolate": "catmull-rom", "clip": true},
 "encoding": {"x": {"field": "a", "type": "quantitative"}, "y": {"field": "b", "type": "quantitative"}, "detail": {"field": "k"}, "order": {"field": "i", "type": "quantitative"}}},
{"data": {"name": "drLab"},
 "mark": {"type": "point", "shape": "M-1,-0.66H1V0.66H-1Z", "filled": true, "fill": "white", "stroke": "#111", "strokeWidth": 0.8, "size": 256, "opacity": 1},
 "encoding": {"x": {"field": "a", "type": "quantitative"}, "y": {"field": "b", "type": "quantitative"}}},
{"data": {"name": "drLab"},
 "mark": {"type": "text", "fontSize": 10, "font": "Liberation Sans Narrow, DejaVu Sans Condensed, sans-serif", "color": "#000", "baseline": "middle", "align": "center"},
 "encoding": {"x": {"field": "a", "type": "quantitative"}, "y": {"field": "b", "type": "quantitative"}, "text": {"field": "t"}}},
{"data": {"name": "pts"},
 "mark": {"type": "circle", "size": 55, "color": "#9a0000", "opacity": 1},
 "encoding": {"x": {"field": "a", "type": "quantitative"}, "y": {"field": "b", "type": "quantitative"}}}
]
}
],
"config": {
 "view": {"stroke": "#707070", "strokeWidth": 1},
 "axis": {"domain": false, "grid": false, "tickColor": "#333", "labelFont": "Liberation Sans Narrow, DejaVu Sans Condensed, sans-serif", "labelFontSize": 9, "labelColor": "#333", "titleFont": "Liberation Sans", "titleFontWeight": "normal", "titleColor": "#000"},
 "axisX": {"tickSize": 10, "labelPadding": 3, "titleFontSize": 14, "titlePadding": 12},
 "axisY": {"tickSize": 11, "labelPadding": 3, "titleFontSize": 15, "titlePadding": 13},
 "title": {"fontSize": 18, "font": "Liberation Sans", "fontWeight": "normal", "color": "#000", "frame": "group", "anchor": "middle", "offset": 6, "dy": 3}
}
}
